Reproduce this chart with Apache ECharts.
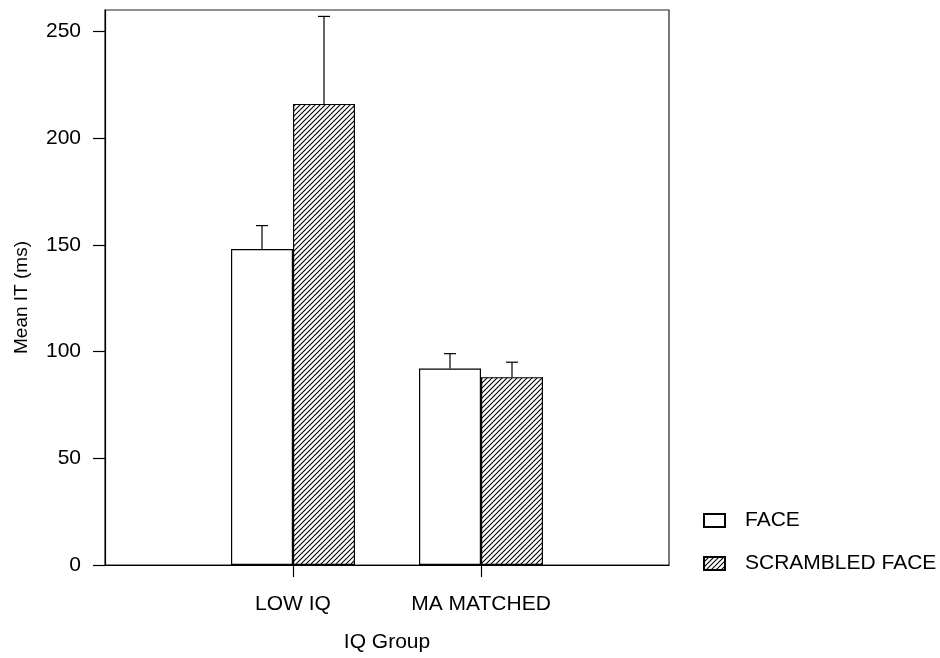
<!DOCTYPE html>
<html>
<head>
<meta charset="utf-8">
<script src="https://cdn.jsdelivr.net/npm/echarts@6/dist/echarts.min.js"></script>
<style>html,body{margin:0;padding:0;background:#fff;}#chart{width:940px;height:658px;}</style>
</head>
<body>
<div id="chart"></div>
<script>
const categories = ['LOW IQ', 'MA MATCHED'];
const seriesNames = ['FACE', 'SCRAMBLED FACE'];
const faceMeans = [148, 92];
const faceErrors = [11, 7];
const scrambledMeans = [216, 88];
const scrambledErrors = [41, 7];
const yTicks = [0, 50, 100, 150, 200, 250];

const FONT = '"Liberation Sans", Arial, Helvetica, sans-serif';
const FS = 21;

// hatch pattern
function makeHatch() {
  const c = document.createElement('canvas');
  const s = 5;
  c.width = s; c.height = s;
  const g = c.getContext('2d');
  g.fillStyle = '#fff';
  g.fillRect(0, 0, s, s);
  g.strokeStyle = '#000';
  g.lineWidth = 1.1;
  g.beginPath();
  g.moveTo(-1, s + 1); g.lineTo(s + 1, -1);
  g.moveTo(-1, 1); g.lineTo(1, -1);
  g.moveTo(s - 1, s + 1); g.lineTo(s + 1, s - 1);
  g.stroke();
  return c;
}
const hatch = { image: makeHatch(), repeat: 'repeat' };

// padded category axis so the two groups sit at 1/3 and 2/3 of the width
const axisCats = [''].concat(categories, ['']);
const pad = arr => [null].concat(arr, [null]);

const BAR_W = 62;

function errorSeries(means, errors, side) {
  const data = means.map((m, i) => [i + 1, m, m + errors[i]]);
  return {
    type: 'custom',
    z: 5,
    silent: true,
    renderItem: function (params, api) {
      const x = api.coord([api.value(0), 0])[0] + side * BAR_W / 2;
      const y0 = api.coord([api.value(0), api.value(1)])[1];
      const y1 = api.coord([api.value(0), api.value(2)])[1];
      const cap = 6;
      return {
        type: 'group',
        children: [
          { type: 'line', shape: { x1: x, y1: y0, x2: x, y2: y1 }, style: { stroke: '#000', lineWidth: 1.2 } },
          { type: 'line', shape: { x1: x - cap, y1: y1, x2: x + cap, y2: y1 }, style: { stroke: '#000', lineWidth: 1.2 } }
        ]
      };
    },
    data: data
  };
}

const chart = echarts.init(document.getElementById('chart'), null, { renderer: 'canvas' });
chart.setOption({
  animation: false,
  backgroundColor: '#fff',
  textStyle: { fontFamily: FONT },
  grid: {
    left: 105, right: 271, top: 10, bottom: 83,
    show: true, borderColor: '#222', borderWidth: 1.2, backgroundColor: 'transparent'
  },
  legend: {
    orient: 'vertical',
    left: 703, top: 510,
    padding: 0,
    itemWidth: 21, itemHeight: 13, itemGap: 22,
    icon: 'rect',
    textStyle: { fontSize: FS, color: '#000', fontFamily: FONT, padding: [0, 0, 0, 15] },
    data: seriesNames
  },
  xAxis: {
    type: 'category',
    data: axisCats,
    boundaryGap: false,
    name: 'IQ Group',
    nameLocation: 'middle',
    nameGap: 67,
    nameTextStyle: { fontSize: FS, color: '#000', fontFamily: FONT },
    axisLine: { lineStyle: { color: '#000', width: 1.2 } },
    axisTick: {
      show: true, length: 12, inside: false,
      interval: function (idx) { return idx === 1 || idx === 2; },
      lineStyle: { color: '#000', width: 1.2 }
    },
    axisLabel: {
      interval: 0, margin: 29, fontSize: FS, color: '#000', fontFamily: FONT
    },
    splitLine: { show: false }
  },
  yAxis: {
    type: 'value',
    min: 0, max: 260,
    name: 'Mean IT (ms)',
    nameLocation: 'middle',
    nameGap: 74,
    nameTextStyle: { fontSize: 19, color: '#000', fontFamily: FONT, padding: [0, 20, 0, 0] },
    axisLine: { show: true, lineStyle: { color: '#000', width: 1.2 } },
    axisTick: { show: true, length: 12, inside: false, customValues: yTicks, lineStyle: { color: '#000', width: 1.2 } },
    axisLabel: { margin: 24, fontSize: FS, color: '#000', fontFamily: FONT, customValues: yTicks },
    splitLine: { show: false }
  },
  series: [
    {
      name: seriesNames[0],
      type: 'bar',
      barWidth: BAR_W,
      barGap: '0%',
      data: pad(faceMeans),
      itemStyle: { color: '#fff', borderColor: '#000', borderWidth: 1.2 }
    },
    {
      name: seriesNames[1],
      type: 'bar',
      barWidth: BAR_W,
      barGap: '0%',
      data: pad(scrambledMeans),
      itemStyle: { color: hatch, borderColor: '#000', borderWidth: 1.2 }
    },
    errorSeries(faceMeans, faceErrors, -1),
    errorSeries(scrambledMeans, scrambledErrors, 1)
  ]
});
</script>
</body>
</html>
